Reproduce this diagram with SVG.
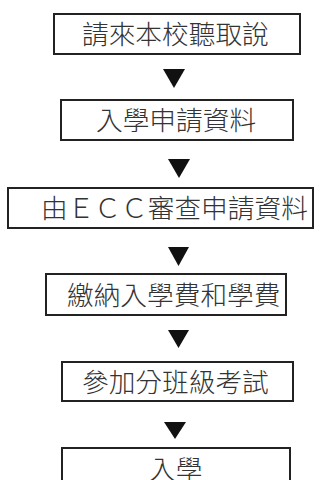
<svg xmlns="http://www.w3.org/2000/svg" width="336" height="480" viewBox="0 0 336 480">
<style>
.box{fill:#fff;stroke:#222;stroke-width:2}
.lbl{font-family:"Noto Sans CJK TC","Noto Sans CJK JP",sans-serif;font-size:26.7px;font-weight:300;fill:#333;dominant-baseline:central}
.arr{fill:#111}
</style>
<rect width="336" height="480" fill="#fff"/>
<g id="connectors">
<polygon class="arr" points="163,69 185,69 174,88"/>
<polygon class="arr" points="168,159 190,159 179,178"/>
<polygon class="arr" points="168,247 189,247 178.5,266"/>
<polygon class="arr" points="168,330 189,330 178.5,348"/>
<polygon class="arr" points="164,422 186,422 175,439"/>
</g>
<g id="n1"><rect class="box" x="54" y="14" width="246" height="40"/><text class="lbl" x="82" y="32.5">請來本校聽取說</text></g>
<g id="n2"><rect class="box" x="61" y="100" width="232" height="40"/><text class="lbl" x="96" y="118.5">入學申請資料</text></g>
<g id="n3"><rect class="box" x="8" y="188" width="305" height="40"/><text class="lbl" x="41" y="206.5">由ＥＣＣ審查申請資料</text></g>
<g id="n4"><rect class="box" x="46" y="274" width="240" height="41"/><text class="lbl" x="67" y="293">繳納入學費和學費</text></g>
<g id="n5"><rect class="box" x="62" y="362" width="231" height="39"/><text class="lbl" x="82" y="380">參加分班級考試</text></g>
<g id="n6"><rect class="box" x="62" y="448" width="228" height="44"/><text class="lbl" x="149" y="467">入學</text></g>
</svg>
